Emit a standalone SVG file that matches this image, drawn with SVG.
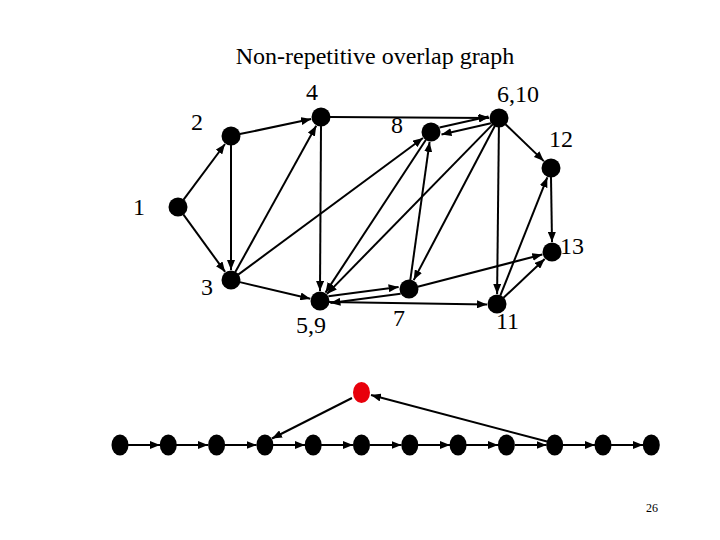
<svg xmlns="http://www.w3.org/2000/svg" width="720" height="540" viewBox="0 0 720 540">
<style>
text{font-family:"Liberation Serif","Times New Roman",serif;fill:#000}
.lbl{font-size:24px}
.e{stroke:#000;stroke-width:2;fill:none;marker-end:url(#ah)}
.n{fill:#000}
</style>
<defs>
<marker id="ah" markerUnits="userSpaceOnUse" markerWidth="11" markerHeight="8" refX="10" refY="4" orient="auto">
<path d="M0,0 L10,4 L0,8 z" fill="#000"/>
</marker>
</defs>
<rect width="720" height="540" fill="#fff"/>
<text x="375" y="64" font-size="24" text-anchor="middle">Non-repetitive overlap graph</text>
<g id="connectors">
<line class="e" x1="183.4" y1="199.8" x2="225" y2="144"/>
<line class="e" x1="183.3" y1="214.3" x2="225.1" y2="271.9"/>
<line class="e" x1="239.8" y1="134.1" x2="311.2" y2="119.1"/>
<line class="e" x1="231" y1="145" x2="231" y2="270"/>
<line class="e" x1="235.3" y1="272.1" x2="316.2" y2="125.8"/>
<line class="e" x1="238.2" y1="274.6" x2="423" y2="138"/>
<line class="e" x1="239.8" y1="282.1" x2="310.3" y2="298.7"/>
<line class="e" x1="321" y1="126" x2="320" y2="291"/>
<line class="e" x1="330" y1="117" x2="489" y2="117.9"/>
<line class="e" x1="439.5" y1="127.5" x2="488.5" y2="116.5"/>
<line class="e" x1="490.9" y1="123.2" x2="441.5" y2="134.4"/>
<line class="e" x1="505.5" y1="124.2" x2="543.8" y2="161.1"/>
<line class="e" x1="498.9" y1="127" x2="497.1" y2="294"/>
<line class="e" x1="494.8" y1="126" x2="413.7" y2="280.1"/>
<line class="e" x1="492.7" y1="124.4" x2="327" y2="293.9"/>
<line class="e" x1="426.1" y1="139.5" x2="325.5" y2="292.6"/>
<line class="e" x1="410.3" y1="280.1" x2="429.6" y2="141.9"/>
<line class="e" x1="328.4" y1="296.3" x2="398.6" y2="286.9"/>
<line class="e" x1="400.6" y1="293.7" x2="330.4" y2="303.1"/>
<line class="e" x1="329" y1="302" x2="487" y2="304.5"/>
<line class="e" x1="417.7" y1="286.7" x2="542.3" y2="254.5"/>
<line class="e" x1="503.5" y1="297.8" x2="544.7" y2="258.9"/>
<line class="e" x1="500.3" y1="295.6" x2="547.3" y2="177.3"/>
<line class="e" x1="551" y1="177" x2="552" y2="242"/>
<line class="e" x1="128" y1="445" x2="160" y2="445"/>
<line class="e" x1="176" y1="445" x2="208" y2="445"/>
<line class="e" x1="225" y1="445" x2="256.5" y2="445"/>
<line class="e" x1="273" y1="445" x2="305" y2="445"/>
<line class="e" x1="321" y1="445" x2="353" y2="445"/>
<line class="e" x1="370" y1="445" x2="401.5" y2="445"/>
<line class="e" x1="418" y1="445" x2="450" y2="445"/>
<line class="e" x1="466" y1="445" x2="498" y2="445"/>
<line class="e" x1="515" y1="445" x2="546.5" y2="445"/>
<line class="e" x1="563" y1="445" x2="595" y2="445"/>
<line class="e" x1="611" y1="445" x2="643" y2="445"/>
<line class="e" x1="352" y1="398" x2="272" y2="438.5"/>
<line class="e" x1="547" y1="441.5" x2="371" y2="395"/>
</g>
<g id="node-1"><circle class="n" cx="178" cy="207" r="9.5"/><text class="lbl" x="133" y="215">1</text></g>
<g id="node-2"><circle class="n" cx="231" cy="136" r="9.5"/><text class="lbl" x="191" y="130">2</text></g>
<g id="node-4"><circle class="n" cx="321" cy="117" r="9.5"/><text class="lbl" x="306" y="100">4</text></g>
<g id="node-8"><circle class="n" cx="431" cy="132" r="9.5"/><text class="lbl" x="391" y="133">8</text></g>
<g id="node-6-10"><circle class="n" cx="499" cy="118" r="9.5"/><text class="lbl" x="497" y="102">6,10</text></g>
<g id="node-12"><circle class="n" cx="551" cy="168" r="9.5"/><text class="lbl" x="549" y="147">12</text></g>
<g id="node-13"><circle class="n" cx="552" cy="252" r="9.5"/><text class="lbl" x="560" y="254">13</text></g>
<g id="node-3"><circle class="n" cx="231" cy="280" r="9.5"/><text class="lbl" x="201" y="295">3</text></g>
<g id="node-5-9"><circle class="n" cx="320" cy="301" r="9.5"/><text class="lbl" x="296" y="333">5,9</text></g>
<g id="node-7"><circle class="n" cx="409" cy="289" r="9.5"/><text class="lbl" x="393" y="326">7</text></g>
<g id="node-11"><circle class="n" cx="497" cy="304" r="9.5"/><text class="lbl" x="496" y="329">11</text></g>
<g id="row">
<ellipse id="r1" class="n" cx="120" cy="445" rx="8.5" ry="10.5"/>
<ellipse id="r2" class="n" cx="168.3" cy="445" rx="8.5" ry="10.5"/>
<ellipse id="r3" class="n" cx="216.6" cy="445" rx="8.5" ry="10.5"/>
<ellipse id="r4" class="n" cx="264.9" cy="445" rx="8.5" ry="10.5"/>
<ellipse id="r5" class="n" cx="313.2" cy="445" rx="8.5" ry="10.5"/>
<ellipse id="r6" class="n" cx="361.5" cy="445" rx="8.5" ry="10.5"/>
<ellipse id="r7" class="n" cx="409.8" cy="445" rx="8.5" ry="10.5"/>
<ellipse id="r8" class="n" cx="458.1" cy="445" rx="8.5" ry="10.5"/>
<ellipse id="r9" class="n" cx="506.4" cy="445" rx="8.5" ry="10.5"/>
<ellipse id="r10" class="n" cx="554.7" cy="445" rx="8.5" ry="10.5"/>
<ellipse id="r11" class="n" cx="603" cy="445" rx="8.5" ry="10.5"/>
<ellipse id="r12" class="n" cx="651.3" cy="445" rx="8.5" ry="10.5"/>
</g>
<g id="node-red"><ellipse cx="361.5" cy="392.5" rx="8.5" ry="10.5" fill="#e8000b"/></g>
<text x="652" y="512" font-size="12" text-anchor="middle">26</text>
</svg>
